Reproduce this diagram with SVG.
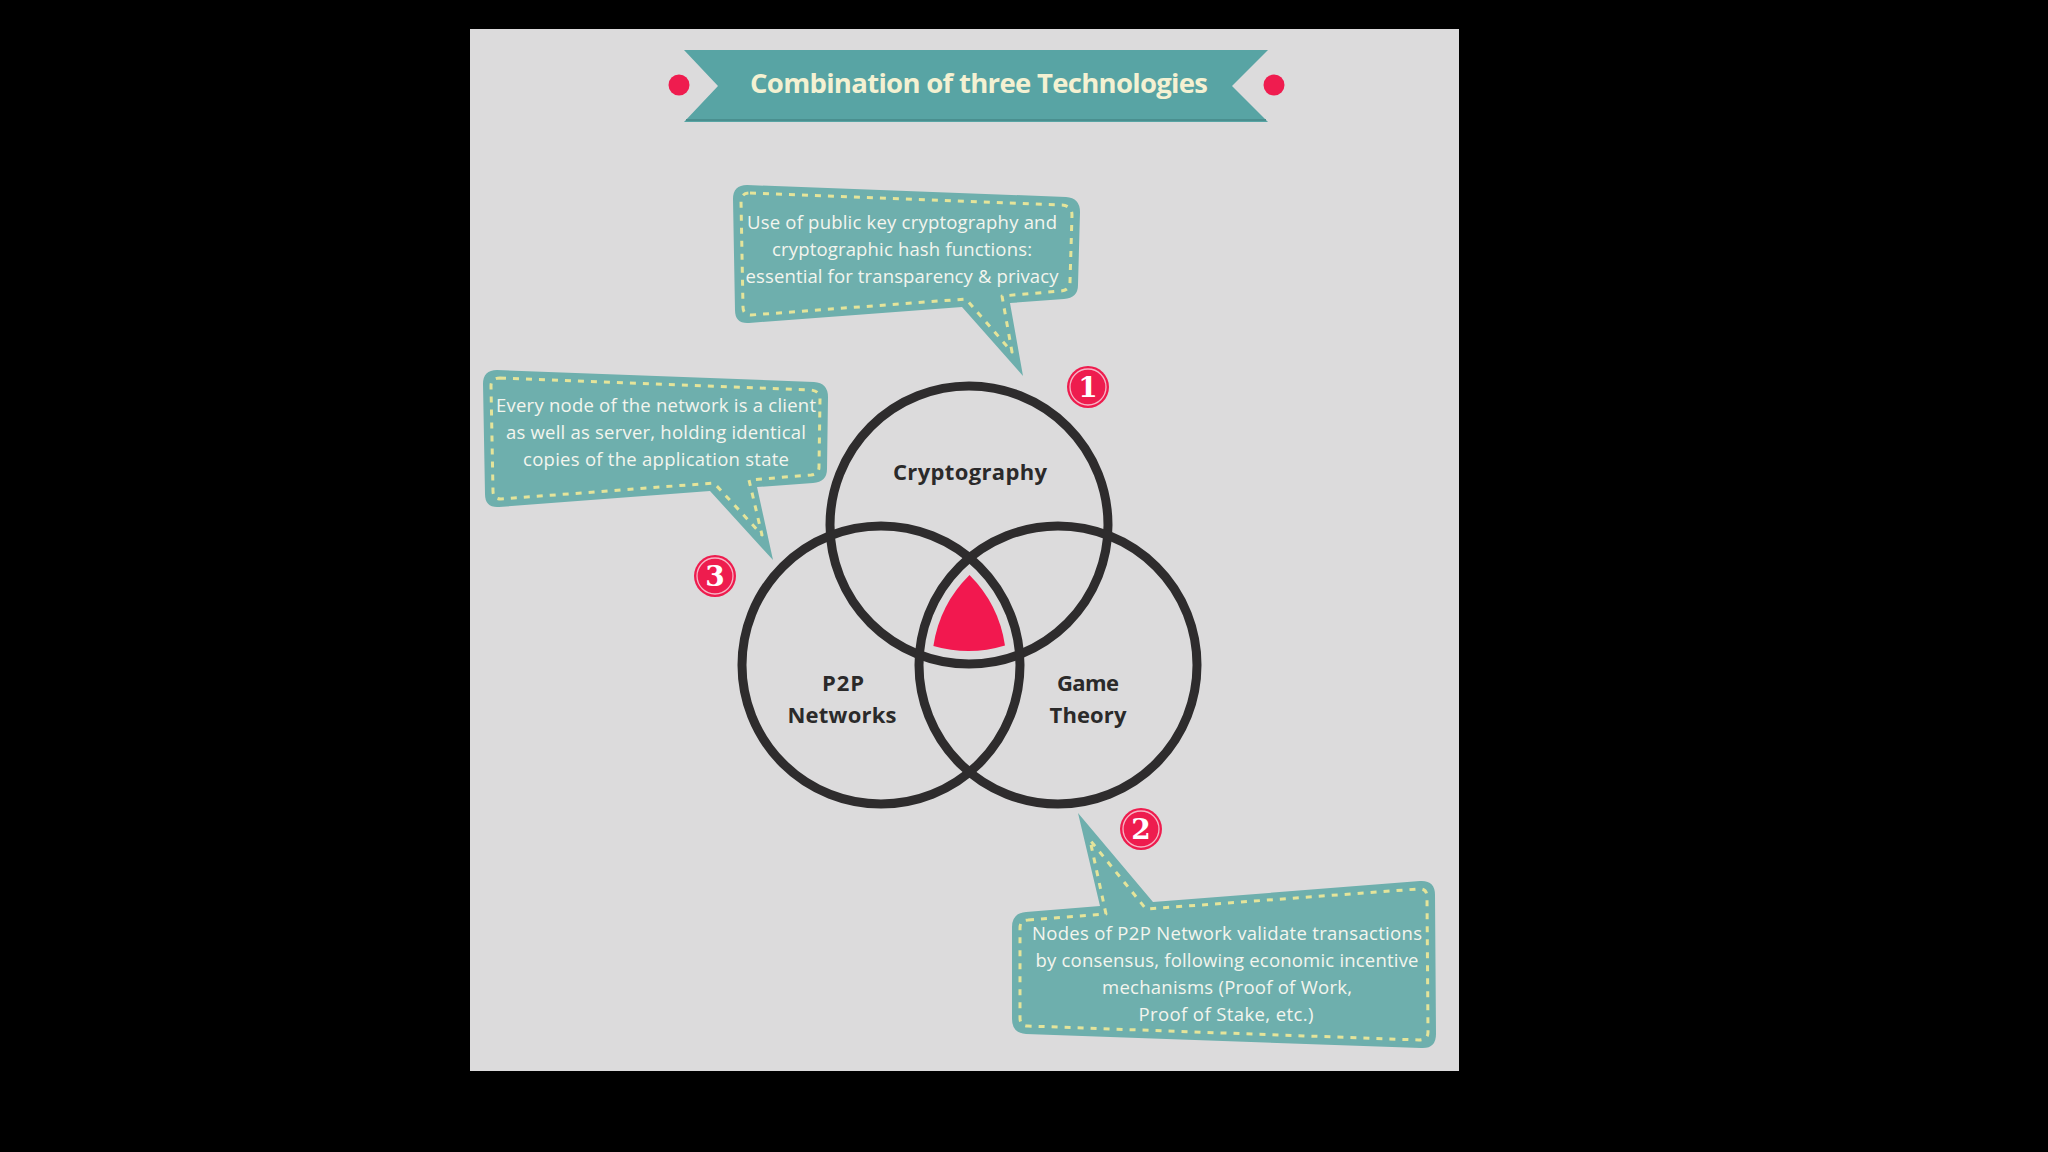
<svg xmlns="http://www.w3.org/2000/svg" width="2048" height="1152" viewBox="0 0 2048 1152">
<defs>
<style>
.bubble{fill:#6eafad}
.dash{fill:none;stroke:#e4e49a;stroke-width:3;stroke-dasharray:6 7;stroke-linejoin:round}
.btxt{font-family:"Open Sans","Liberation Sans",sans-serif;font-size:18.5px;fill:#f3f5ee;text-anchor:middle}
.ring{fill:none;stroke:#2e2c2d;stroke-width:9}
.lbl{font-family:"Open Sans","Liberation Sans",sans-serif;font-weight:bold;font-size:22px;fill:#2b2a2a;text-anchor:middle}
.badge{fill:#ee1c4e}
.badgering{fill:none;stroke:#f7b3c4;stroke-width:1.3}
.num{font-family:"DejaVu Serif","Liberation Serif",serif;font-weight:bold;font-size:28px;fill:#ffffff;text-anchor:middle}
</style>
</defs>
<rect x="0" y="0" width="2048" height="1152" fill="#000000"/>
<rect x="470" y="29" width="989" height="1042" fill="#dcdbdc"/>

<g id="banner">
<path d="M684 50 L1268 50 L1232 86 L1268 122 L684 122 L718 86 Z" fill="#58a4a4"/>
<path d="M686 120 L1266 120" stroke="#4a8f8f" stroke-width="2"/>
<circle cx="679" cy="85" r="10.5" fill="#ef1c4f"/>
<circle cx="1274" cy="85" r="10.5" fill="#ef1c4f"/>
<text x="979" y="93" font-family="'Open Sans','Liberation Sans',sans-serif" font-weight="bold" font-size="27.5" fill="#f4f1d2" text-anchor="middle" textLength="458">Combination of three Technologies</text>
</g>

<g id="bubble-crypto">
<path class="bubble" d="M747 185 L1066 197 Q1080 198 1080 212 L1078 285 Q1078 298 1064 299 L1010 303 L1023 376 L962 307 L749 323 Q735 324 735 310 L733 199 Q733 185 747 185 Z"/>
<path class="dash" d="M750 193 L1062 205 Q1072 206 1072 215 L1070 282 Q1070 290 1061 291 L1002 296 L1012 352 L966 299 L751 315 Q743 315 743 307 L741 201 Q741 193 750 193 Z"/>
<text class="btxt" x="902" y="229" textLength="310">Use of public key cryptography and</text>
<text class="btxt" x="902" y="256" textLength="260">cryptographic hash functions:</text>
<text class="btxt" x="902" y="283" textLength="313">essential for transparency &amp; privacy</text>
</g>

<g id="bubble-p2p">
<path class="bubble" d="M497 370 L814 382 Q828 383 828 397 L827 469 Q827 482 813 483 L757 487 L773 560 L710 491 L499 507 Q485 508 485 494 L483 384 Q483 370 497 370 Z"/>
<path class="dash" d="M500 378 L811 390 Q820 391 820 399 L819 467 Q819 474 811 475 L749 480 L762 535 L714 483 L501 499 Q493 499 493 491 L491 386 Q491 378 500 378 Z"/>
<text class="btxt" x="656" y="412" textLength="320">Every node of the network is a client</text>
<text class="btxt" x="656" y="439" textLength="300">as well as server, holding identical</text>
<text class="btxt" x="656" y="466" textLength="266">copies of the application state</text>
</g>

<g id="bubble-game">
<path class="bubble" d="M1026 912 L1100 906 L1078 813 L1153 902 L1420 881 Q1435 880 1435 895 L1436 1034 Q1436 1049 1421 1048 L1026 1034 Q1012 1033 1012 1019 L1012 927 Q1012 913 1026 912 Z"/>
<path class="dash" d="M1028 920 L1106 914 L1090 840 L1146 909 L1418 889 Q1427 888 1427 897 L1428 1032 Q1428 1040 1419 1040 L1028 1026 Q1020 1026 1020 1018 L1020 928 Q1020 920 1028 920 Z"/>
<text class="btxt" x="1227" y="940" textLength="390">Nodes of P2P Network validate transactions</text>
<text class="btxt" x="1227" y="967" textLength="383">by consensus, following economic incentive</text>
<text class="btxt" x="1227" y="994" textLength="250">mechanisms (Proof of Work,</text>
<text class="btxt" x="1226" y="1021" textLength="175">Proof of Stake, etc.)</text>
</g>

<g id="circle-cryptography">
<circle class="ring" cx="969" cy="525" r="139"/>
<text class="lbl" x="970" y="480" textLength="154">Cryptography</text>
</g>
<g id="circle-p2p">
<circle class="ring" cx="881" cy="665" r="139"/>
<text class="lbl" x="843" y="691" textLength="42">P2P</text>
<text class="lbl" x="842" y="723" textLength="109">Networks</text>
</g>
<g id="circle-game">
<circle class="ring" cx="1058" cy="665" r="139"/>
<text class="lbl" x="1088" y="691" textLength="62">Game</text>
<text class="lbl" x="1088" y="723" textLength="77">Theory</text>
</g>

<g id="center">
<path d="M969.5 575 A126 126 0 0 1 1005 645.5 A126 126 0 0 1 933.4 645.9 A126 126 0 0 1 969.5 575 Z" fill="#f2184f"/>
</g>

<g id="badge-1">
<circle class="badge" cx="1088" cy="387" r="21"/>
<circle class="badgering" cx="1088" cy="387" r="18"/>
<text class="num" x="1088" y="397">1</text>
</g>
<g id="badge-2">
<circle class="badge" cx="1141" cy="829" r="21"/>
<circle class="badgering" cx="1141" cy="829" r="18"/>
<text class="num" x="1141" y="839">2</text>
</g>
<g id="badge-3">
<circle class="badge" cx="715" cy="576" r="21"/>
<circle class="badgering" cx="715" cy="576" r="18"/>
<text class="num" x="715" y="586">3</text>
</g>
</svg>
